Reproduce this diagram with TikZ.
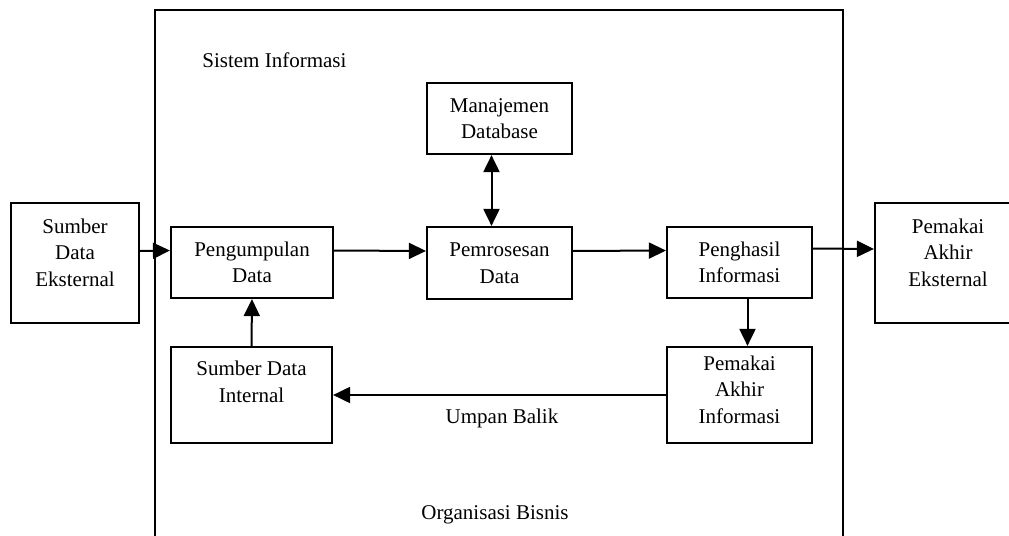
\documentclass[tikz,border=0pt]{standalone}
\usepackage{fontspec}
\setmainfont{Liberation Serif}
\usetikzlibrary{arrows.meta}

\begin{document}
\begin{tikzpicture}[x=0.5pt, y=-0.5pt,
	box/.style={draw=black, line width=1.1pt, align=center, inner sep=0pt, font=\fontsize{10.5pt}{13.3pt}\selectfont},
	plain/.style={font=\fontsize{10.5pt}{13.3pt}\selectfont, inner sep=0pt},
	flow/.style={-{Triangle[length=8.5pt,width=8pt]}, line width=1pt},
	both/.style={{Triangle[length=8.5pt,width=8pt]}-{Triangle[length=8.5pt,width=8pt]}, line width=1pt}]
	
	\useasboundingbox (0,0) rectangle (1009,536);
	\clip (0,0) rectangle (1009,536);
	
	\draw[line width=1pt] (155,10) rectangle (843,560);
	
	\node[box, minimum width=64pt, minimum height=60pt]     (ext)         at (75, 263)     {Sumber\\Data\\Eksternal\\[-3pt]\mbox{}};
	\node[box, minimum width=81pt, minimum height=35.5pt]   (pengumpulan) at (252, 262.5)  {Pengumpulan\\Data};
	\node[box, minimum width=72.5pt, minimum height=36pt]   (pemrosesan)  at (499.5, 263)  {Pemrosesan\\Data};
	\node[box, minimum width=72.5pt, minimum height=35.5pt] (manajemen)   at (499.5, 118.5) {Manajemen\\Database};
	\node[box, minimum width=72.5pt, minimum height=35.5pt] (penghasil)   at (739.5, 262.5) {Penghasil\\Informasi};
	\node[box, minimum width=72.5pt, minimum height=48pt]   (pemakaiinfo) at (739.5, 395)  {Pemakai\\Akhir\\Informasi\\[-8pt]\mbox{}};
	\node[box, minimum width=80.5pt, minimum height=48pt]   (internal)    at (251.5, 395)  {Sumber Data\\Internal\\\mbox{}};
	\node[box, minimum width=73pt, minimum height=60pt]     (pemakaiext)  at (948, 263)    {Pemakai\\Akhir\\Eksternal\\[-3pt]\mbox{}};
	
	\node[plain, anchor=west] (sistem)     at (202, 60)  {Sistem Informasi};
	\node[plain]              (umpan)      at (502, 418) {Umpan Balik};
	\node[plain]              (organisasi) at (495, 515) {Organisasi Bisnis};
	
	\draw[flow] ([yshift=6pt]ext.east) -- ([yshift=6pt]pengumpulan.west);
	\draw[flow] ([yshift=6pt]pengumpulan.east) -- ([yshift=6pt]pemrosesan.west);
	\draw[flow] ([yshift=6pt]pemrosesan.east) -- ([yshift=6pt]penghasil.west);
	\draw[flow] ([yshift=7pt]penghasil.east) -- ([yshift=7pt]pemakaiext.west);
	\draw[both] ([xshift=-4pt]manajemen.south) -- ([xshift=-4pt]pemrosesan.north);
	\draw[flow] ([xshift=4pt]penghasil.south) -- ([xshift=4pt]pemakaiinfo.north);
	\draw[flow] (pemakaiinfo.west) -- (internal.east);
	\draw[flow] (internal.north) -- (pengumpulan.south);
	
\end{tikzpicture}
\end{document}
